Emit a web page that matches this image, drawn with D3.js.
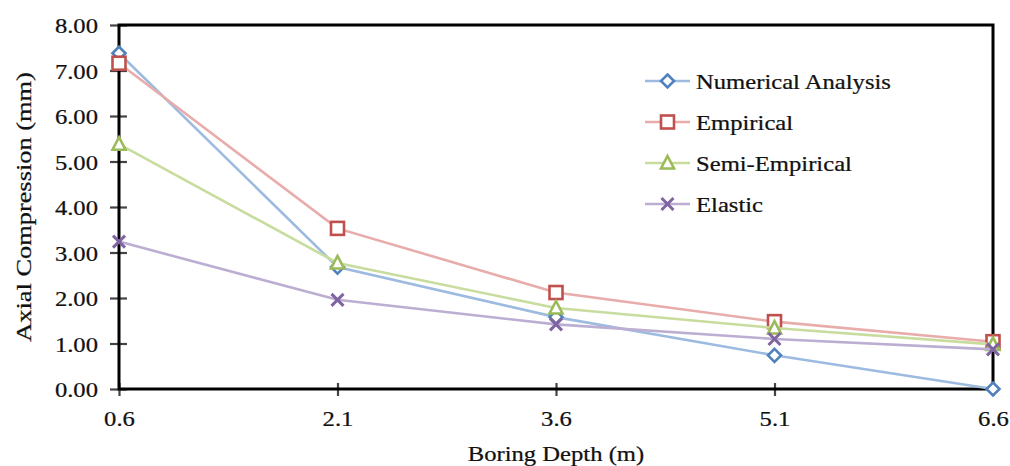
<!DOCTYPE html>
<html>
<head>
<meta charset="utf-8">
<script src="https://cdn.jsdelivr.net/npm/d3@7/dist/d3.min.js"></script>
<style>
  html, body { margin: 0; padding: 0; background: #fff; }
  svg { display: block; }
  text { font-family: "Liberation Serif", "Times New Roman", serif; fill: #111; stroke: #111; stroke-width: 0.25px; }
</style>
</head>
<body>
<svg id="chart" width="1010" height="466"></svg>
<script>
// Boring depths (m) and axial compression (mm) for each method
const depths = [0.6, 2.1, 3.6, 5.1, 6.6];
const numericalAnalysis = [7.38, 2.68, 1.58, 0.74, 0.00];
const empirical = [7.16, 3.53, 2.12, 1.48, 1.04];
const semiEmpirical = [5.38, 2.77, 1.78, 1.34, 0.98];
const elastic = [3.24, 1.96, 1.42, 1.10, 0.87];
const yTicks = [0, 1, 2, 3, 4, 5, 6, 7, 8];
const seriesNames = ["Numerical Analysis", "Empirical", "Semi-Empirical", "Elastic"];

const series = [
  { name: seriesNames[0], values: numericalAnalysis, line: "#9dbbe0", mark: "#4f81bd", shape: "diamond" },
  { name: seriesNames[1], values: empirical, line: "#e8acab", mark: "#c0504d", shape: "square" },
  { name: seriesNames[2], values: semiEmpirical, line: "#c8dc9e", mark: "#9bbb59", shape: "triangle" },
  { name: seriesNames[3], values: elastic, line: "#bcaed2", mark: "#8064a2", shape: "cross" }
];

const svg = d3.select("#chart");
const plot = { left: 119, right: 993, top: 25, bottom: 389 };
const textStretch = "scale(1.12,1)";

const x = d3.scaleLinear().domain([0.6, 6.6]).range([plot.left, plot.right]);
const y = d3.scaleLinear().domain([0, 8]).range([plot.bottom, plot.top]);

// Y axis with ticks crossing the axis line
const yAxis = svg.append("g")
  .attr("transform", `translate(${plot.left},0)`)
  .call(d3.axisLeft(y).tickValues(yTicks).tickFormat(d3.format(".2f")).tickSize(9));
yAxis.select(".domain").remove();
yAxis.selectAll(".tick line").attr("x1", 8).attr("x2", -9).attr("stroke", "#444").attr("stroke-width", 2.2);
yAxis.selectAll(".tick text")
  .attr("x", 0).attr("dy", null)
  .attr("dominant-baseline", "central")
  .attr("text-anchor", "end")
  .attr("font-size", 22)
  .attr("transform", `translate(-21,0) ${textStretch}`);

// X axis
const xAxis = svg.append("g")
  .attr("transform", `translate(0,${plot.bottom})`)
  .call(d3.axisBottom(x).tickValues(depths).tickFormat(d3.format(".1f")).tickSize(6));
xAxis.select(".domain").remove();
xAxis.selectAll(".tick line").attr("y1", -6).attr("y2", 7).attr("stroke", "#444").attr("stroke-width", 2.2);
xAxis.selectAll(".tick text")
  .attr("y", 0).attr("dy", null)
  .attr("text-anchor", "middle")
  .attr("font-size", 22)
  .attr("transform", `translate(0,37) ${textStretch}`);

// Plot frame
svg.append("rect")
  .attr("x", plot.left).attr("y", plot.top)
  .attr("width", plot.right - plot.left).attr("height", plot.bottom - plot.top)
  .attr("fill", "none").attr("stroke", "#000").attr("stroke-width", 3);

// Marker drawing helper
function drawMarker(g, shape, color) {
  const sw = 2.6;
  if (shape === "diamond") {
    g.append("path").attr("d", "M0,-6.5L6.5,0L0,6.5L-6.5,0Z")
      .attr("fill", "#fff").attr("stroke", color).attr("stroke-width", sw);
  } else if (shape === "square") {
    g.append("rect").attr("x", -6.5).attr("y", -6.5).attr("width", 13).attr("height", 13)
      .attr("fill", "#fff").attr("stroke", color).attr("stroke-width", sw);
  } else if (shape === "triangle") {
    g.append("path").attr("d", "M0,-7L6.5,5.5L-6.5,5.5Z")
      .attr("fill", "#fff").attr("stroke", color).attr("stroke-width", sw);
  } else {
    g.append("path").attr("d", "M-6,-6L6,6M6,-6L-6,6")
      .attr("fill", "none").attr("stroke", color).attr("stroke-width", sw + 0.4);
  }
}

const line = d3.line().x(d => x(d[0])).y(d => y(d[1]));

series.forEach(s => {
  const pts = depths.map((d, i) => [d, s.values[i]]);
  const g = svg.append("g");
  g.append("path").datum(pts).attr("d", line)
    .attr("fill", "none").attr("stroke", s.line).attr("stroke-width", 2.6);
  pts.forEach(p => {
    const m = g.append("g").attr("transform", `translate(${x(p[0])},${y(p[1])})`);
    drawMarker(m, s.shape, s.mark);
  });
});

// Legend
const legend = svg.append("g").attr("transform", "translate(645,81)");
series.forEach((s, i) => {
  const row = legend.append("g").attr("transform", `translate(0,${i * 41})`);
  row.append("line").attr("x1", 0).attr("x2", 45).attr("y1", 0).attr("y2", 0)
    .attr("stroke", s.line).attr("stroke-width", 2.6);
  const m = row.append("g").attr("transform", "translate(22.5,0)");
  drawMarker(m, s.shape, s.mark);
  row.append("text")
    .attr("dominant-baseline", "central")
    .attr("font-size", 22)
    .attr("transform", `translate(51,0) ${textStretch}`)
    .text(s.name);
});

// Axis titles
svg.append("text")
  .attr("text-anchor", "middle")
  .attr("font-size", 22)
  .attr("transform", `translate(${(plot.left + plot.right) / 2},461) ${textStretch}`)
  .text("Boring Depth (m)");

svg.append("text")
  .attr("text-anchor", "middle")
  .attr("dominant-baseline", "central")
  .attr("font-size", 22)
  .attr("transform", `translate(23,${(plot.top + plot.bottom) / 2}) rotate(-90) scale(1.2,1)`)
  .text("Axial Compression (mm)");
</script>
</body>
</html>
